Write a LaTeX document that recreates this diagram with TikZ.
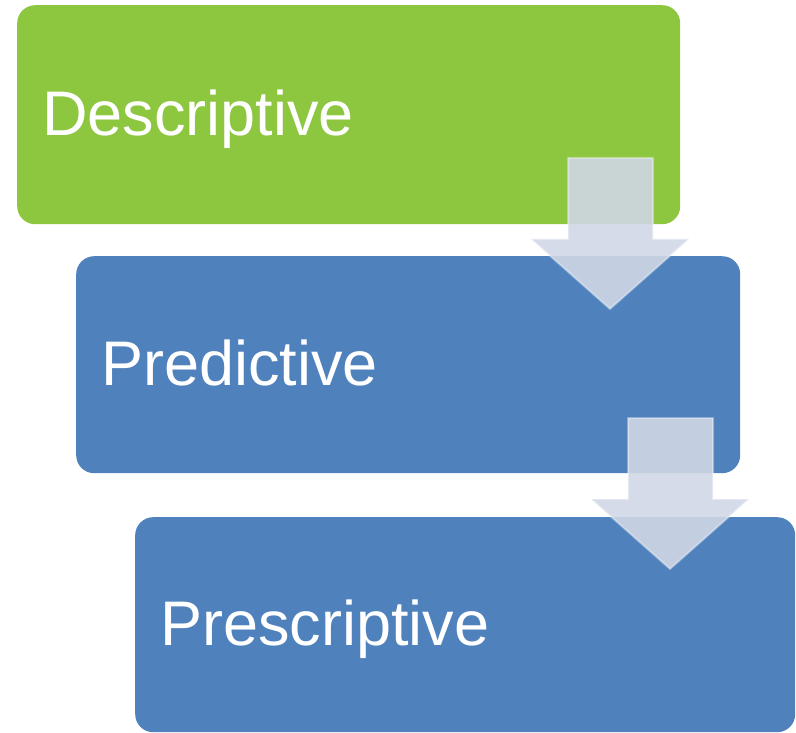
\documentclass[tikz,border=0pt]{standalone}
\usepackage{fontspec}
\setmainfont{Liberation Sans}
\usepackage{tikz}
\usepackage{xcolor}
\definecolor{stage-green}{RGB}{141,198,63}
\definecolor{stage-blue}{RGB}{79,129,189}
\definecolor{arrow-fill}{RGB}{208,215,230}
\tikzset{
    stage-box/.style = {fill=#1, rectangle, rounded corners=18pt, anchor=north west, inner xsep=25pt, inner ysep=0pt, align=left, text=white, text depth=5pt, font=\fontsize{63}{70}\selectfont},
    block-arrow/.style = {fill=arrow-fill, fill opacity=0.9, draw=white, draw opacity=0.35, line width=2pt, line join=miter},
}

\begin{document}
\begin{tikzpicture}[x=1pt, y=-1pt]
\useasboundingbox (0,0) rectangle (796,733);
\node[stage-box=stage-green, text width=613pt, minimum height=219pt] (desc) at (17,5) {Descriptive};
\node[stage-box=stage-blue, text width=614pt, minimum height=217pt] (pred) at (76,256) {Predictive};
\node[stage-box=stage-blue, text width=610pt, minimum height=215pt] (presc) at (135,517) {Prescriptive};
% arrows between the stages
\draw[block-arrow, shift={(610,158)}] (-42,0) -- (43,0) -- (43,81) -- (79,81) -- (0,151) -- (-79,81) -- (-42,81) -- cycle;
\draw[block-arrow, shift={(670,418)}] (-42,0) -- (43,0) -- (43,81) -- (79,81) -- (0,151) -- (-79,81) -- (-42,81) -- cycle;
\end{tikzpicture}
\end{document}
